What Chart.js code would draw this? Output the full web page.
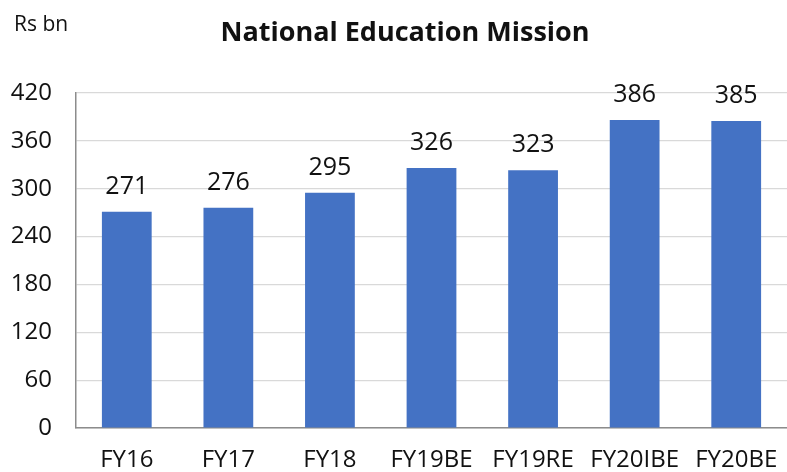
<!DOCTYPE html>
<html>
<head>
<meta charset="utf-8">
<script src="https://cdn.jsdelivr.net/npm/chart.js@4/dist/chart.umd.min.js"></script>
<style>
html,body{margin:0;padding:0;background:#fff;}
#wrap{width:787px;height:472px;position:relative;}
</style>
</head>
<body>
<div id="wrap"><canvas id="c" width="787" height="472"></canvas></div>
<script>
const categories = ["FY16", "FY17", "FY18", "FY19BE", "FY19RE", "FY20IBE", "FY20BE"];
const values = [271, 276, 295, 326, 323, 386, 385];
const yTicks = [0, 60, 120, 180, 240, 300, 360, 420];
const titleText = "National Education Mission";
const unitText = "Rs bn";

const FONT = "'Open Sans', sans-serif";
const TEXT = "#111111";

const labelsPlugin = {
  id: 'labelsPlugin',
  afterDatasetsDraw(chart) {
    const ctx = chart.ctx;
    ctx.save();
    ctx.fillStyle = TEXT;
    ctx.font = "25px " + FONT;
    ctx.textAlign = 'center';
    ctx.textBaseline = 'alphabetic';
    const meta = chart.getDatasetMeta(0);
    meta.data.forEach((bar, i) => {
      ctx.fillText(String(values[i]), bar.x, bar.y - 18);
    });
    ctx.font = "bold 27px " + FONT;
    ctx.fillText(titleText, 405, 41);
    ctx.font = "21px " + FONT;
    ctx.textAlign = 'left';
    ctx.fillText(unitText, 14, 31);
    ctx.restore();
  }
};

new Chart(document.getElementById('c'), {
  type: 'bar',
  data: {
    labels: categories,
    datasets: [{
      data: values,
      backgroundColor: '#4472C4',
      borderWidth: 0,
      barPercentage: 0.49,
      categoryPercentage: 1.0
    }]
  },
  options: {
    responsive: false,
    animation: false,
    devicePixelRatio: 1,
    layout: { padding: { top: 93, right: 0, bottom: 0, left: 0 } },
    plugins: { legend: { display: false }, tooltip: { enabled: false }, title: { display: false } },
    scales: {
      x: {
        afterFit(axis) { axis.height = 44; axis.paddingLeft = 0; axis.paddingRight = 0; },
        grid: { display: false, drawTicks: false },
        border: { display: true, color: '#8c8c8c', width: 1.5 },
        ticks: { color: TEXT, font: { family: FONT, size: 24 }, padding: 18, maxRotation: 0, autoSkip: false }
      },
      y: {
        min: 0, max: 420,
        afterBuildTicks(axis) { axis.ticks = yTicks.map(v => ({ value: v })); },
        afterFit(axis) { axis.width = 76; },
        grid: { color: '#d9d9d9', lineWidth: 1.2, drawTicks: false },
        border: { display: true, color: '#8c8c8c', width: 1.5 },
        ticks: { color: TEXT, font: { family: FONT, size: 24 }, padding: 24 }
      }
    }
  },
  plugins: [labelsPlugin]
});
</script>
</body>
</html>
